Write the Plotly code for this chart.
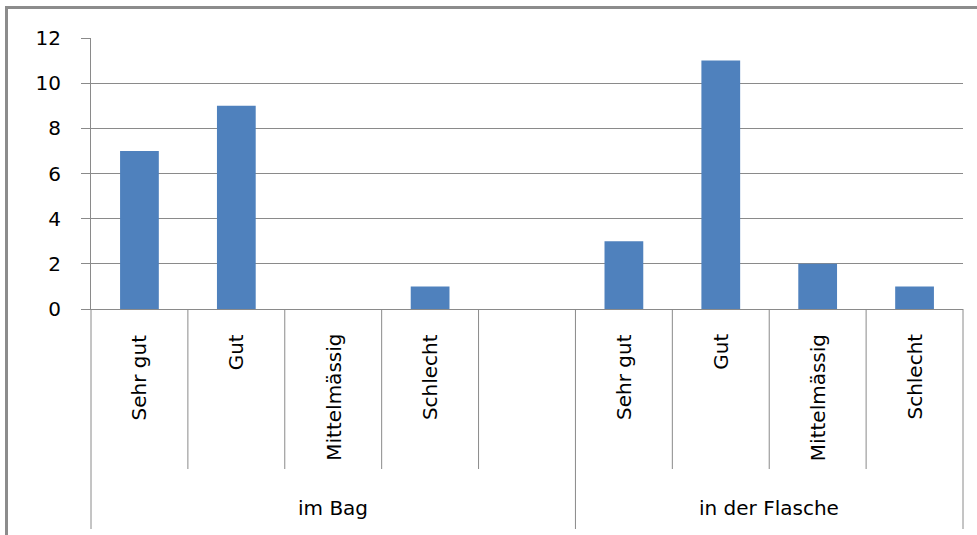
import plotly.graph_objects as go

# ---- data ----
groups = ["im Bag", "im Bag", "im Bag", "im Bag", "im Bag",
          "in der Flasche", "in der Flasche", "in der Flasche", "in der Flasche"]
categories = ["Sehr gut", "Gut", "Mittelmässig", "Schlecht", "",
              "Sehr gut", "Gut", "Mittelmässig", "Schlecht"]
values = [7, 9, 0, 1, None, 3, 11, 2, 1]
y_ticks = [0, 2, 4, 6, 8, 10, 12]

# ---- layout geometry (pixels) ----
W, H = 977, 535
L, R, T, B = 91, 963, 38, 309
PW, PH = R - L, B - T
FONT = "DejaVu Sans"
GRAY = "#8a8a8a"
BLUE = "#4F81BD"

def px_y(py):
    return (B - py) / PH

def px_x(px):
    return (px - L) / PW

n = len(categories)
xpos = list(range(n))

fig = go.Figure()
fig.add_trace(go.Bar(
    x=xpos, y=values,
    marker=dict(color=BLUE, line=dict(width=0)),
    showlegend=False,
))

shapes = []
# outer chart frame (cropped: only left and top visible)
shapes.append(dict(type="rect", xref="paper", yref="paper",
                   x0=px_x(6.5), x1=px_x(W + 20), y0=px_y(H + 20), y1=px_y(7.5),
                   line=dict(color="#8c8c8c", width=3), layer="below"))

# category separators
group_bounds = {0, n}
for i in range(1, n):
    if groups[i] != groups[i - 1]:
        group_bounds.add(i)
for k in range(n + 1):
    bottom = 529 if k in group_bounds else 469
    shapes.append(dict(type="line", xref="paper", yref="paper",
                       x0=k / n, x1=k / n, y0=0, y1=px_y(bottom),
                       line=dict(color=GRAY, width=1)))

annotations = []
for i, c in enumerate(categories):
    if not c:
        continue
    annotations.append(dict(x=xpos[i], xref="x", y=px_y(332), yref="paper",
                            text=c, textangle=-90, showarrow=False,
                            xanchor="center", yanchor="top",
                            font=dict(family=FONT, size=20, color="#000000")))

# group labels
seen = []
for g in groups:
    if g not in seen:
        seen.append(g)
for g in seen:
    idx = [i for i, gg in enumerate(groups) if gg == g]
    annotations.append(dict(x=(idx[0] + idx[-1]) / 2, xref="x", y=px_y(508), yref="paper",
                            text=g, showarrow=False, xanchor="center", yanchor="middle",
                            font=dict(family=FONT, size=20, color="#000000")))

fig.update_layout(
    width=W, height=H,
    margin=dict(l=L, r=W - R, t=T, b=H - B, pad=0),
    paper_bgcolor="white", plot_bgcolor="white",
    bargap=0.6,
    shapes=shapes, annotations=annotations,
    font=dict(family=FONT, size=20, color="#000000"),
    xaxis=dict(range=[-0.5, n - 0.5], showticklabels=False, ticks="",
               showgrid=False, zeroline=False, showline=True,
               linecolor=GRAY, linewidth=1, fixedrange=True),
    yaxis=dict(range=[0, 12], tickvals=y_ticks, ticks="outside", ticklen=9,
               tickcolor=GRAY, tickwidth=1, showgrid=True, gridcolor=GRAY,
               gridwidth=1, zeroline=False, showline=True, linecolor=GRAY,
               linewidth=1, ticklabelstandoff=16,
               tickfont=dict(family=FONT, size=20, color="#000000")),
)

fig.write_html(
    "out.html",
    config={"displayModeBar": False},
    post_script="document.body.style.margin='0';document.body.style.overflow='hidden';",
)
